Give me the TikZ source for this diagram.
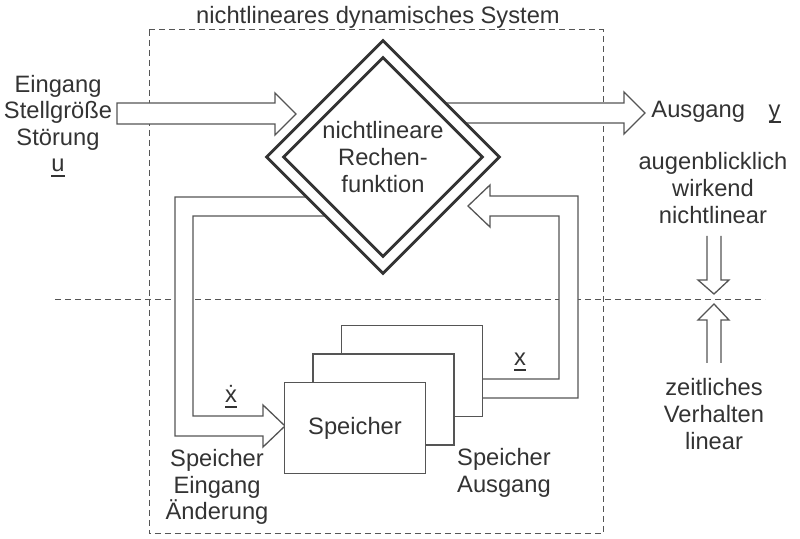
\documentclass[tikz,border=0pt]{standalone}
\usepackage{fontspec}
\setmainfont{Liberation Sans}
\usetikzlibrary{shapes.geometric,calc}
\definecolor{txtgray}{HTML}{333333}
\definecolor{linegray}{HTML}{555555}
\newcommand{\ulvar}[1]{\setbox0\hbox{#1}\rlap{\rule[-2.6pt]{\wd0}{1.1pt}}\box0}
\begin{document}
\begin{tikzpicture}[x=0.5pt,y=-0.5pt,
	every node/.style={text=txtgray,font=\fontsize{11.85}{13.3}\selectfont,align=center,inner sep=0pt},
	hollow/.style={draw=linegray,line width=0.65pt,fill=white,line join=miter},
	sepline/.style={draw=linegray,line width=0.5pt,dash pattern=on 3pt off 2pt},
	rechen/.style={shape=diamond,draw=txtgray,line width=1.4pt,fill=white,aspect=1,inner sep=0pt},
	speicherbox/.style={draw=linegray,line width=0.65pt,fill=white,minimum width=70.5pt,minimum height=45.5pt}]
	\useasboundingbox (0,0) rectangle (800,539);
	\draw[sepline] (149,30) rectangle (603,534);
	\draw[sepline] (55,300) -- (765,300);
	\node (title) at (378,17) {nichtlineares dynamisches System};

	\draw[hollow] (117,103) -- (275,103) -- (275,93) -- (296,114) -- (275,135) -- (275,124) -- (117,124) -- cycle;
	\draw[hollow] (430,103) -- (624,103) -- (624,92) -- (645,113) -- (624,134) -- (624,123) -- (450,123);
	\draw[hollow] (330,197) -- (175,197) -- (175,436) -- (263,436) -- (263,447) -- (285,426) -- (263,405) -- (263,416) -- (193,416) -- (193,216) -- (340,216);
	\draw[hollow] (470,379) -- (559,379) -- (559,216) -- (490,216) -- (490,227) -- (468,206) -- (490,185) -- (490,196) -- (578,196) -- (578,398) -- (470,398);
	\draw[hollow] (707,236) -- (707,280) -- (698,280) -- (714,294) -- (729,280) -- (721,280) -- (721,236);
	\draw[hollow] (707,363) -- (707,320) -- (698,320) -- (714,304) -- (729,320) -- (721,320) -- (721,363);

	\node[rechen,minimum size=117pt] (rf) at (383,157) {};
	\node[rechen,minimum size=100pt] (rfin) at (rf) {};
	\node (rflbl) at (rf) {nichtlineare\\Rechen-\\funktion};

	\node[speicherbox] (sp3) at (412,371) {};
	\node[speicherbox] (sp2) at ($(sp3)+(-28.5,28.5)$) {};
	\node[speicherbox] (sp1) at ($(sp2)+(-28.5,28.5)$) {Speicher};

	\node (inlbl) at (58,126) {Eingang\\Stellgröße\\Störung\\\ulvar{u}};
	\node (outlbl) at (716,112) {Ausgang\quad\ulvar{y}};
	\node (nllbl) at (713,188) {augenblicklich\\wirkend\\nichtlinear};
	\node (linlbl) at (714,414) {zeitliches\\Verhalten\\linear};
	\node (speinlbl) at (217,487) {Speicher\\Eingang\\Änderung};
	\node (spauslbl) at (504,473) {Speicher\\Ausgang};
	\node (xdotlbl) at (231,397) {\ulvar{\.{x}}};
	\node (xlbl) at (520,362) {\ulvar{x}};
\end{tikzpicture}
\end{document}
